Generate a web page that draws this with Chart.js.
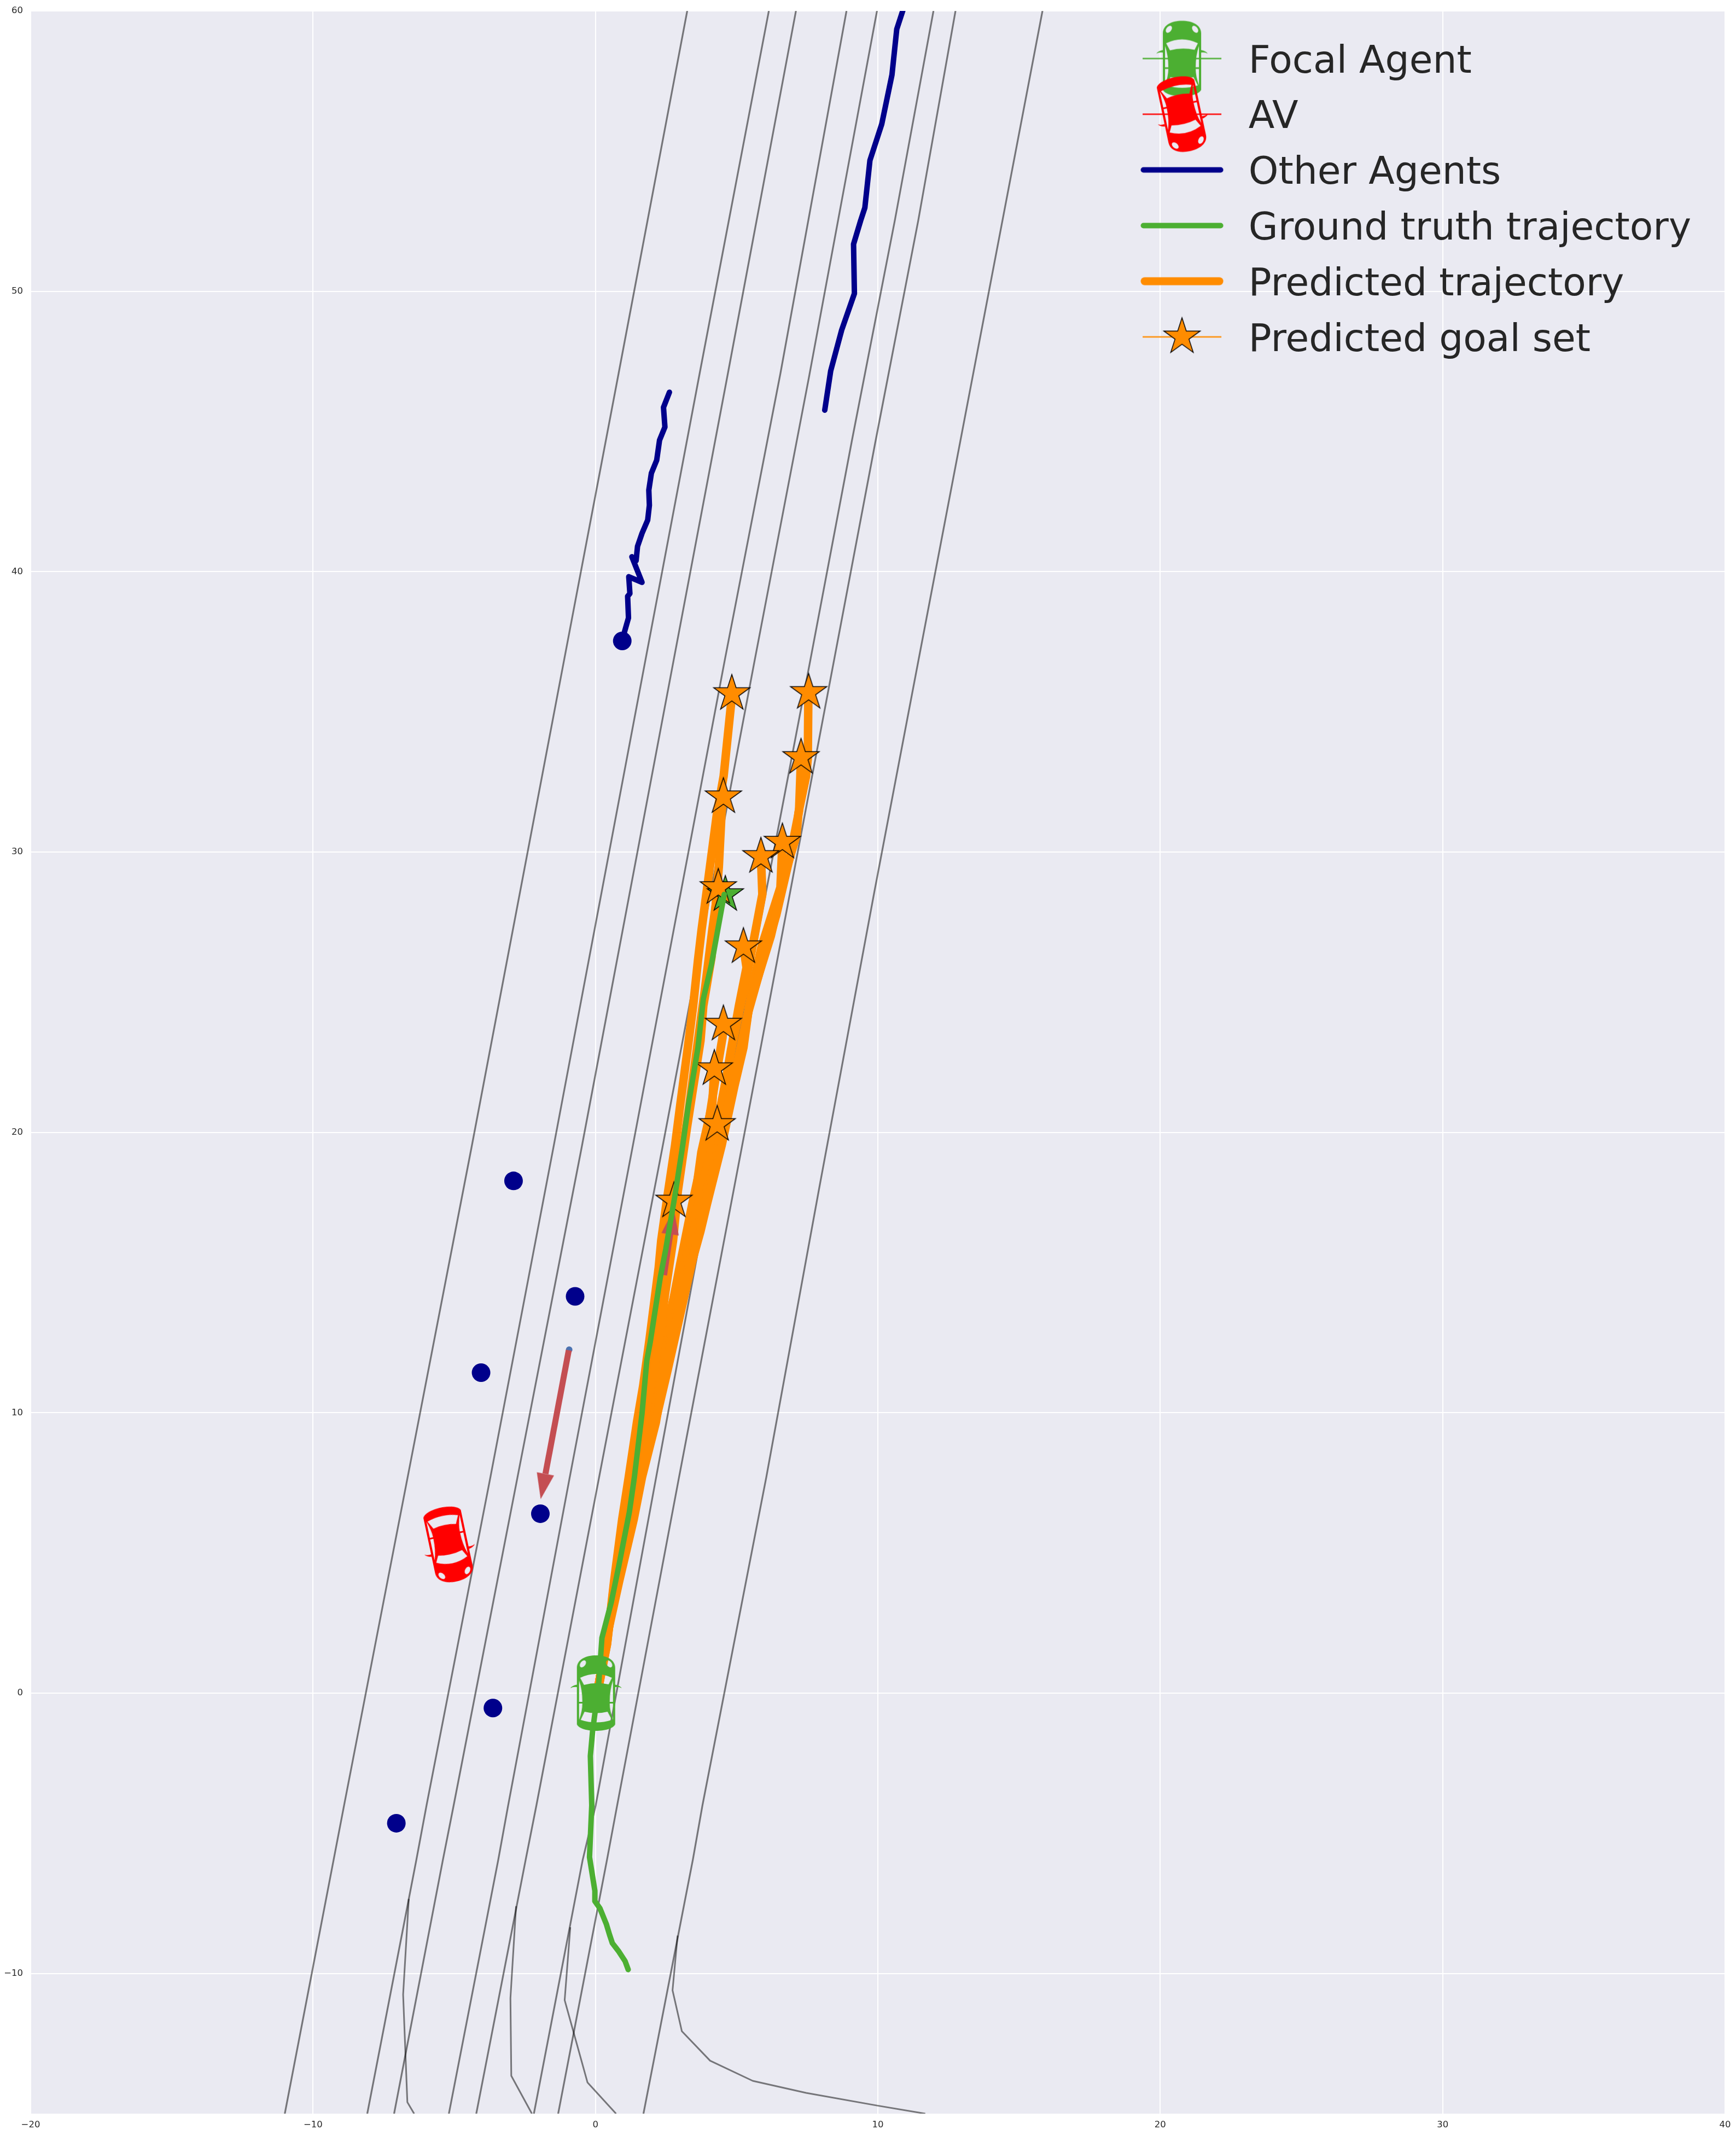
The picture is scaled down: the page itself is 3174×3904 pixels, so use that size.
<!DOCTYPE html>
<html><head><meta charset="utf-8">
<style>html,body{margin:0;padding:0;background:#fff}canvas{display:block}</style>
<script src="https://cdn.jsdelivr.net/npm/chart.js@4"></script>
</head><body>
<canvas id="c" width="3174" height="3904"></canvas>
<script>
const xTicks = [-20,-10,0,10,20,30,40];
const yTicks = [-10,0,10,20,30,40,50,60];
const legendNames = ['Focal Agent','AV','Other Agents','Ground truth trajectory','Predicted trajectory','Predicted goal set'];

const roadA = [[-11.0,-15],[-9.27,-5.94],[-8.9,-4],[-6.65,7.7],[-4.4,19.4],[-1.1,36.9],[0.82,47.07],[3.25,60]];
const roadB = [[-8.08,-15],[-6.34,-5.94],[-5.98,-4],[-3.72,7.7],[-1.5,19.4],[1.78,36.9],[3.69,47.07],[6.14,60]];
const roadC = [[-7.13,-15],[-5.4,-5.94],[-5.02,-4],[-2.76,7.7],[-0.5,19.4],[2.78,36.9],[4.69,47.07],[7.1,60]];
const roadD = [[-5.19,-15],[-3.44,-5.94],[-3.09,-4],[-0.91,7.7],[1.3,19.4],[4.59,36.9],[6.55,47.07],[8.89,60]];
const roadE = [[-4.22,-15],[-2.47,-5.94],[-2.09,-4],[0.13,7.7],[2.36,19.4],[5.65,36.9],[7.56,46.93],[8.59,52.52],[9.97,60]];
const roadF = [[-2.18,-15],[-0.45,-5.94],[0.01,-4],[2.15,7.7],[4.3,19.4],[7.62,36.9],[9.09,44.72],[10.6,52.52],[11.97,60]];
const roadG = [[-1.32,-15],[0.41,-5.94],[0.77,-4],[2.96,7.7],[5.17,19.4],[8.46,36.9],[9.93,44.72],[11.43,52.52],[12.75,60]];
const roadH = [[1.7,-15],[3.45,-5.94],[3.79,-4],[6.05,7.7],[7.94,18.1],[9.88,28.6],[11.45,36.9],[15.83,60]];
const branchP = [[-6.61,-7.34],[-6.81,-10.75],[-6.66,-14.59],[-6.42,-15]];
const branchQ = [[-2.81,-7.6],[-3.01,-10.88],[-2.98,-13.65],[-2.25,-15]];
const branchR = [[-0.89,-8.35],[-1.09,-10.95],[-0.28,-13.89],[0.73,-15]];
const branchS = [[2.91,-8.65],[2.73,-10.6],[3.06,-12.06],[4.06,-13.11],[5.57,-13.83],[7.46,-14.26],[9.97,-14.71],[11.68,-15]];

const otherTrackA = [[0.93,37.51],[0.98,37.68],[1.17,38.35],[1.14,39.12],[1.22,39.22],[1.18,39.82],[1.65,39.62],[1.29,40.53],[1.44,40.39],[1.49,40.9],[1.65,41.37],[1.85,41.84],[1.91,42.37],[1.89,42.91],[1.98,43.51],[2.17,43.98],[2.27,44.69],[2.46,45.16],[2.41,45.86],[2.62,46.4]];
const otherTrackB = [[8.12,45.76],[8.33,47.16],[8.72,48.62],[9.17,49.92],[9.14,51.68],[9.39,52.52],[9.54,52.98],[9.72,54.67],[10.14,55.97],[10.5,57.72],[10.67,59.35],[10.88,60],[11.0,60.4]];
const otherDots = [[0.95,37.53],[-2.9,18.27],[-0.72,14.15],[-4.05,11.43],[-1.95,6.4],[-3.63,-0.53],[-7.05,-4.64]];

const groundTruth = [[1.16,-9.86],[1.05,-9.56],[0.83,-9.22],[0.6,-8.92],[0.5,-8.62],[0.39,-8.25],[0.16,-7.68],[-0.02,-7.42],[-0.02,-7.05],[-0.21,-5.85],[-0.13,-4],[-0.18,-2.24],[-0.1,-1.35],[0.11,0.26],[0.23,1.97],[0.56,3.24],[0.82,4.5],[1.2,6.45],[1.38,7.71],[1.65,9.98],[1.82,11.87],[1.94,12.52],[2.3,14.85],[2.49,15.83],[2.82,17.78],[3.07,19.4],[3.3,21.03],[3.63,23.02],[3.82,24.76],[4.11,26.0],[4.56,28.49]];
const groundTruthGoal = [[4.6,28.48]];

const pred1 = [[0.07,0],[0.41,1.75],[0.66,3.99],[0.95,6.22],[1.18,7.71],[1.47,9.66],[1.69,10.96],[1.91,12.58],[2.24,15.18],[2.33,16.15],[2.56,17.8],[2.82,19.54],[3.01,21.03],[3.14,22.02],[3.27,23.02],[3.46,24.51],[3.63,26.13],[3.76,27.24],[3.99,28.98],[4.3,31.35],[4.54,32.71],[4.84,35.65]];
const pred2 = [[0.07,0],[0.35,1.75],[0.84,3.99],[1.36,6.22],[1.65,7.71],[2.14,9.66],[2.36,10.96],[2.75,12.9],[3.27,14.85],[3.72,16.48],[3.95,17.45],[4.47,19.54],[4.92,21.65],[5.24,23.02],[5.44,24.51],[6.21,27.0],[6.79,29.48],[7.12,30.6],[7.19,31.41],[7.46,32.71],[7.52,33.34],[7.54,35.69]];
const pred3 = [[0.07,0],[0.35,1.75],[0.8,3.99],[1.25,6.22],[1.55,7.71],[2.2,10],[2.55,11.5],[3.0,13.5],[3.45,15.5],[4.08,18.3],[4.53,20.28],[4.98,22.27],[5.37,24.14],[5.89,26],[6.4,27.74],[6.92,29.98],[7.21,31.47],[7.28,33.37]];
const pred4 = [[0.07,0],[0.38,1.75],[0.75,3.99],[1.15,6.22],[1.45,7.71],[1.78,9.98],[2.03,11.41],[2.3,12.9],[2.46,14.2],[2.75,16.15],[2.92,17.92],[3.24,20.16],[3.43,21.4],[3.72,23.27],[3.82,24.51],[4.11,26.25],[4.27,28.24],[4.37,29.48],[4.47,31.47],[4.53,31.97]];
const pred5 = [[0.07,0],[0.35,1.75],[0.78,3.99],[1.2,6.22],[1.5,7.71],[2.1,9.7],[2.45,11.2],[2.85,13.2],[3.3,15.2],[3.82,17.45],[4.34,19.54],[4.79,21.4],[5.18,22.89],[5.55,25.13],[5.88,26.62],[6.55,28.74],[6.62,30.35]];
const pred6 = [[0.07,0],[0.35,1.75],[0.75,3.99],[1.15,6.22],[1.45,7.71],[2.1,10],[2.5,12],[2.95,14],[3.4,16],[3.82,18.29],[4.24,19.91],[4.6,21.78],[4.85,23.14],[5.24,25.01],[5.56,26.62],[5.91,28.49],[5.86,29.85]];
const pred7 = [[0.07,0],[0.38,1.75],[0.7,3.99],[1.05,6.22],[1.3,7.71],[1.75,10.5],[2.15,13],[2.55,16.5],[2.92,18.3],[3.3,20.78],[3.63,23.27],[3.88,25.13],[4.14,27.24],[4.35,28.73]];
const pred9 = [[0.07,0],[0.36,1.75],[0.72,3.99],[1.12,6.22],[1.4,7.71],[2.05,9.9],[2.35,11.5],[2.75,13.5],[3.2,15.5],[3.63,17.45],[4.08,19.29],[4.5,21.15],[4.79,22.89],[5.08,24.51],[5.35,25.88],[5.24,26.62]];
const pred10 = [[0.07,0],[0.36,1.75],[0.72,3.99],[1.1,6.22],[1.35,7.71],[2.0,9.9],[2.3,11.41],[2.6,13.2],[3.0,15.3],[3.43,17.45],[3.88,19.54],[4.21,21.65],[4.5,23.39],[4.53,23.86]];
const pred11 = [[0.07,0],[0.36,1.75],[0.72,3.99],[1.08,6.22],[1.33,7.71],[2.05,9.9],[2.35,11.7],[2.65,13.3],[3.05,15.3],[3.5,17.45],[3.75,19.29],[4.14,21.03],[4.21,22.27]];
const pred12 = [[0.07,0],[0.36,1.75],[0.72,3.99],[1.08,6.22],[1.33,7.71],[1.9,9.66],[2.27,11.41],[2.49,12.9],[2.88,14.53],[3.37,16.8],[3.82,18.92],[4.31,20.28]];
const pred13 = [[0.07,0],[0.41,1.75],[0.66,3.9],[0.95,6],[1.2,7.5],[1.6,9.66],[1.9,11],[2.3,13.5],[2.62,16],[2.78,17.55]];
const predictedGoals = [[4.83,35.65],[7.55,35.69],[7.28,33.37],[4.53,31.97],[6.62,30.35],[5.86,29.84],[4.35,28.73],[5.24,26.62],[4.53,23.86],[4.21,22.27],[4.31,20.28],[2.78,17.55]];

const arrowAShaft = [[-0.944,12.23],[-1.77,7.82]];
const arrowBShaft = [[2.43,14.91],[2.65,16.39]];
const arrowHeads = [[-1.855,7.37],[2.71,16.82]];
const arrowTail = [[-0.93,12.25]];
const focalCar = [[0.02,0]];
const avCar = [[-5.2,5.3]];

const GREEN='#4caf32', RED='#ff0000', NAVY='#00008b', ORANGE='#ff8c00', ARROW='#c44e52', ROAD='rgba(0,0,0,0.5)';
const ICON_SHIFT=-7.5;
const toPts = a => a.map(p => ({x:p[0], y:p[1]}));

function mkCanvas(w,h){const c=document.createElement('canvas');c.width=w;c.height=h;return c;}
function carPath(ctx,col){
  ctx.fillStyle=col;
  const p=new Path2D();
  p.moveTo(-35,-46);p.bezierCurveTo(-35,-62,-18,-69,0,-69);p.bezierCurveTo(18,-69,35,-62,35,-46);
  p.lineTo(35,57);p.bezierCurveTo(32,65,15,69,0,69);p.bezierCurveTo(-15,69,-32,65,-35,57);p.closePath();
  const lamp=(x,r)=>{p.moveTo(x+Math.cos(r)*4.6,-53.5+Math.sin(r)*4.6);p.ellipse(x,-53.5,4.6,7.2,r,0,Math.PI*2);p.closePath();};
  lamp(-24,0.65);lamp(24,-0.65);
  p.moveTo(-29,-28);p.quadraticCurveTo(0,-42,29,-28);p.lineTo(23,-16);p.quadraticCurveTo(0,-21,-22,-15);p.closePath();
  p.moveTo(-21,34);p.quadraticCurveTo(0,39,21,34);p.lineTo(29,49);p.quadraticCurveTo(0,58,-28,49);p.closePath();
  for(const s of [-1,1]){
    p.moveTo(s*31,-23);p.quadraticCurveTo(s*25,-6,s*25,16);p.lineTo(s*31,16);p.closePath();
    p.moveTo(s*31,19);p.lineTo(s*25,19);p.quadraticCurveTo(s*25,32,s*31,49);p.closePath();
  }
  ctx.fill(p,'evenodd');
  for(const s of [-1,1]){
    ctx.beginPath();ctx.moveTo(s*35,-15.5);ctx.quadraticCurveTo(s*44,-14,s*47,-9);ctx.quadraticCurveTo(s*42,-12,s*35,-11);ctx.closePath();ctx.fill();
  }
}
function carPoint(col){const c=mkCanvas(220,220),x=c.getContext('2d');x.translate(110,110);carPath(x,col);return c;}
function carLegend(col,rot){
  const c=mkCanvas(220,220),x=c.getContext('2d');x.translate(110,110+ICON_SHIFT);
  x.strokeStyle=col;x.lineWidth=2.5;x.beginPath();x.moveTo(-72,0);x.lineTo(72,0);x.stroke();
  x.rotate(rot*Math.PI/180);carPath(x,col);return c;
}
function starDraw(x,col){
  x.beginPath();
  for(let i=0;i<10;i++){const r=i%2?35*0.382:35,a=-Math.PI/2+i*Math.PI/5;x.lineTo(Math.cos(a)*r,Math.sin(a)*r);}
  x.closePath();x.fillStyle=col;x.fill();x.strokeStyle='#000';x.lineWidth=1.5;x.lineJoin='miter';x.stroke();
}
function starPoint(col){const c=mkCanvas(90,90),x=c.getContext('2d');x.translate(45,45);starDraw(x,col);return c;}
function starLegend(col){const c=mkCanvas(180,110),x=c.getContext('2d');x.translate(90,55+ICON_SHIFT);x.strokeStyle=col;x.lineWidth=2.5;x.beginPath();x.moveTo(-72,0);x.lineTo(72,0);x.stroke();starDraw(x,col);return c;}
function lineLegend(col,w){const c=mkCanvas(180,60),x=c.getContext('2d');x.translate(90,30+ICON_SHIFT);x.strokeStyle=col;x.lineWidth=w;x.lineCap='round';x.beginPath();x.moveTo(-75.5+w/2,0);x.lineTo(75.5-w/2,0);x.stroke();return c;}
function headIcon(){const c=mkCanvas(60,60),x=c.getContext('2d');x.translate(30,30);x.fillStyle=ARROW;x.beginPath();x.moveTo(0,-23.5);x.lineTo(16,23.5);x.lineTo(-16,23.5);x.closePath();x.fill();return c;}

const lineDs=(data,color,width,order,cap)=>({type:'scatter',data:toPts(data),showLine:true,borderColor:color,backgroundColor:color,borderWidth:width,pointRadius:0,pointHoverRadius:0,tension:0,order,borderCapStyle:cap||'round',borderJoinStyle:'round',fill:false});
const markDs=(data,style,order,rot)=>({type:'scatter',data:toPts(data),showLine:false,pointStyle:style,pointRadius:20,pointHoverRadius:20,pointRotation:rot||0,order,borderWidth:0});

const datasets=[];
[roadA,roadB,roadC,roadD,roadE,roadF,roadG,roadH].forEach(r=>datasets.push(lineDs(r,ROAD,3.2,100,'butt')));
[branchP,branchQ,branchR,branchS].forEach(r=>datasets.push(lineDs(r,ROAD,3,100,'butt')));
[otherTrackA,otherTrackB].forEach(r=>datasets.push(lineDs(r,NAVY,10,90)));
[pred1,pred2,pred3,pred4,pred5,pred6,pred7,pred9,pred10,pred11,pred12,pred13].forEach(r=>datasets.push(lineDs(r,ORANGE,15.5,80)));
datasets.push({type:'scatter',data:toPts(arrowTail),showLine:false,pointStyle:'circle',pointRadius:6,backgroundColor:'#4c72b0',borderWidth:0,order:76});
datasets.push(lineDs(arrowAShaft,ARROW,11,75,'butt'));
datasets.push(lineDs(arrowBShaft,ARROW,11,75,'butt'));
const head=headIcon();
datasets.push({type:'scatter',data:toPts(arrowHeads),showLine:false,pointStyle:head,pointRadius:20,pointRotation:[190.7,8.3],order:74,borderWidth:0});
datasets.push(markDs(groundTruthGoal,starPoint(GREEN),60));
datasets.push(markDs(predictedGoals,starPoint(ORANGE),50));
datasets.push(lineDs(groundTruth,GREEN,10,40));
datasets.push({type:'scatter',data:toPts(otherDots),showLine:false,pointStyle:'circle',pointRadius:17,backgroundColor:NAVY,borderWidth:0,order:30});
datasets.push(markDs(focalCar,carPoint(GREEN),20));
datasets.push(markDs(avCar,carPoint(RED),20,168));

const legendIcons=[carLegend(GREEN,0),carLegend(RED,168),lineLegend(NAVY,10),lineLegend(GREEN,10),lineLegend(ORANGE,14.5),starLegend(ORANGE)];

const plotBg={id:'plotBg',beforeDraw(chart){
  const a=chart.chartArea,c=chart.ctx;c.save();c.fillStyle='#eaeaf2';c.fillRect(a.left,a.top,a.right-a.left,a.bottom-a.top);c.restore();
  const l=chart.legend;l.left=2041.8;l.top=0;l.right=3174;l.bottom=79.8+l.columnSizes[0].height;l.width=1132;l.height=l.bottom;
}};
const minus=v=>v<0?'\u2212'+(-v):String(v);
const tickFont={family:'"DejaVu Sans"',size:16.5};
new Chart(document.getElementById('c'),{
  type:'scatter',
  data:{datasets},
  plugins:[plotBg],
  options:{
    responsive:false,animation:false,devicePixelRatio:1,
    layout:{padding:{top:14,right:18,left:0,bottom:0}},
    events:[],
    scales:{
      x:{type:'linear',min:-20,max:40,
        afterBuildTicks:s=>{s.ticks=xTicks.map(v=>({value:v}));},
        afterFit:s=>{s.height=39;s.paddingLeft=0;s.paddingRight=0;},
        grid:{color:'#ffffff',lineWidth:2,drawTicks:false},border:{display:false},
        ticks:{font:tickFont,color:'#262626',padding:11,maxRotation:0,autoSkip:false,callback:minus}},
      y:{type:'linear',min:-15,max:60,
        afterBuildTicks:s=>{s.ticks=yTicks.map(v=>({value:v}));},
        afterFit:s=>{s.width=56;s.paddingTop=0;s.paddingBottom=0;},
        grid:{color:'#ffffff',lineWidth:2,drawTicks:false},border:{display:false},
        ticks:{font:tickFont,color:'#262626',padding:14,autoSkip:false,callback:minus}}
    },
    plugins:{
      tooltip:{enabled:false},title:{display:false},
      legend:{display:true,position:'chartArea',align:'end',onClick:null,
        labels:{usePointStyle:true,pointStyleWidth:174,padding:32.3,color:'#262626',
          font:{family:'"DejaVu Sans"',size:69.5},
          generateLabels:()=>legendNames.map((t,i)=>({text:t,pointStyle:legendIcons[i],fontColor:'#262626',textAlign:'left',hidden:false,lineWidth:0,strokeStyle:'transparent',fillStyle:'transparent'}))
        }
      }
    }
  }
});
</script>
</body></html>
